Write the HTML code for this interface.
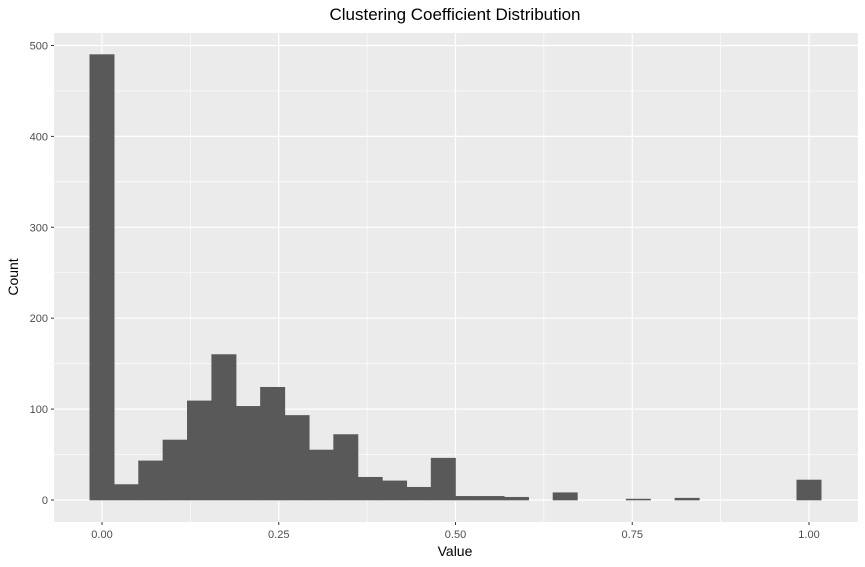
<!DOCTYPE html>
<html><head><meta charset="utf-8"><style>
html,body{margin:0;padding:0;background:#fff}
svg{display:block;font-family:"Liberation Sans",sans-serif}
</style></head><body>
<svg id="chart" width="865" height="567" viewBox="0 0 865 567">
<rect x="0" y="0" width="865" height="567" fill="#fff"/>
<text x="455" y="20" font-size="17" text-anchor="middle" fill="#000">Clustering Coefficient Distribution</text>
<rect x="54" y="33" width="804" height="489" fill="#ebebeb"/>
<g id="grid"></g>
<g id="bars"></g>
<g id="axes"></g>
<text x="455" y="556" font-size="14" text-anchor="middle" fill="#000">Value</text>
<text transform="translate(18,277) rotate(-90)" font-size="14" text-anchor="middle" fill="#000">Count</text>
</svg>
<script>
const counts = [490,17,43,66,109,160,103,124,93,55,72,25,21,14,46,4,4,3,0,8,0,0,1,0,2,0,0,0,0,22];
const xTicks = [0,0.25,0.5,0.75,1];
const xTickLabels = ["0.00","0.25","0.50","0.75","1.00"];
const yTicks = [0,100,200,300,400,500];
const binWidth = 1/29;

const NS="http://www.w3.org/2000/svg";
function sx(v){return 102+(809-102)*v;}
function sy(v){return 500-(500-45.5)*v/500;}
function mk(tag,attrs,parent){const e=document.createElementNS(NS,tag);for(const k in attrs)e.setAttribute(k,attrs[k]);parent.appendChild(e);return e;}
const grid=document.getElementById('grid'),bars=document.getElementById('bars'),axes=document.getElementById('axes');
for(let i=0;i<xTicks.length-1;i++){const v=(xTicks[i]+xTicks[i+1])/2;
 const l=mk('line',{x1:sx(v),x2:sx(v),y1:33,y2:522,stroke:'#fff','stroke-width':0.6},grid);
 
 }
for(let i=0;i<yTicks.length-1;i++){const v=(yTicks[i]+yTicks[i+1])/2;
 const l=mk('line',{x1:54,x2:858,y1:sy(v),y2:sy(v),stroke:'#fff','stroke-width':0.6},grid);
 
 }
xTicks.forEach((v,i)=>{
 const l=mk('line',{x1:sx(v),x2:sx(v),y1:33,y2:522,stroke:'#fff','stroke-width':1.2},grid);
 
 
 const t=mk('line',{x1:sx(v),x2:sx(v),y1:522,y2:525,stroke:'#333','stroke-width':1},axes);
 
 
 const tx=mk('text',{x:sx(v),y:538,'font-size':11,'text-anchor':'middle',fill:'#4d4d4d'},axes);
 tx.textContent=xTickLabels[i];
 
 
});
yTicks.forEach(v=>{
 const l=mk('line',{x1:54,x2:858,y1:sy(v),y2:sy(v),stroke:'#fff','stroke-width':1.2},grid);
 
 
 const t=mk('line',{x1:51,x2:54,y1:sy(v),y2:sy(v),stroke:'#333','stroke-width':1},axes);
 
 
 const tx=mk('text',{x:48,y:sy(v)+4,'font-size':11,'text-anchor':'end',fill:'#4d4d4d'},axes);
 tx.textContent=String(v);
 
 
});
counts.forEach((c,i)=>{
 if(c<=0)return;
 const c0=i*binWidth-binWidth/2,c1=i*binWidth+binWidth/2;
 const r=mk('rect',{x:sx(c0),y:sy(c),width:sx(c1)-sx(c0),height:sy(0)-sy(c),fill:'#595959',stroke:'#595959','stroke-width':0.6},bars);
 
 
});
</script>
</body></html>
